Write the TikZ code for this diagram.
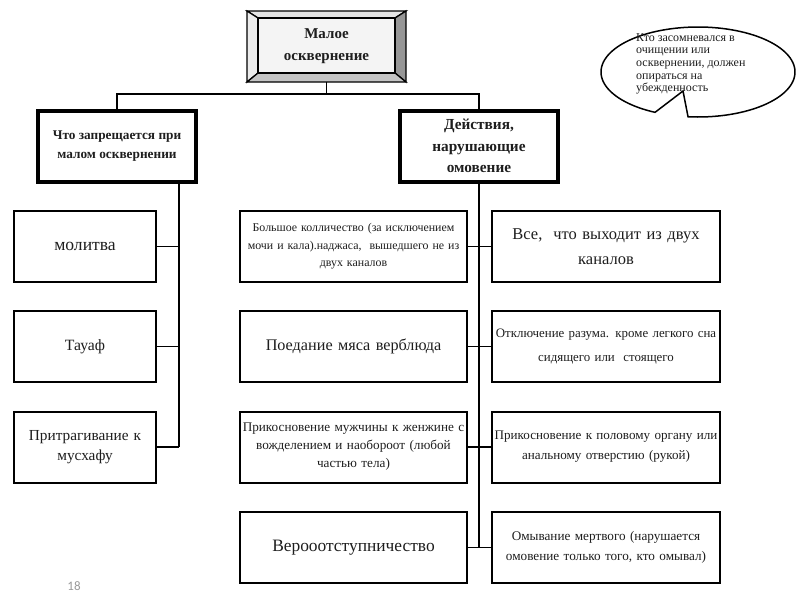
\documentclass[tikz,border=0pt]{standalone}
\usepackage{fontspec}
\setmainfont{Liberation Serif}
\newfontfamily\pnfont{Carlito}
\usetikzlibrary{calc}
\definecolor{txt}{HTML}{1E1E1E}
\definecolor{pngray}{HTML}{9A9A9A}
\definecolor{bvin}{HTML}{F4F4F4}
\definecolor{bvtop}{HTML}{E4E4E4}
\definecolor{bvleft}{HTML}{ECECEC}
\definecolor{bvright}{HTML}{969696}
\definecolor{bvbot}{HTML}{C4C4C4}
\tikzset{
  fs/.style n args={2}{font={\fontsize{#1}{#2}\selectfont}},
  plainbox/.style={draw=black, line width=2pt, inner sep=0pt, align=center, text=txt},
  headbox/.style={draw=black, line width=4pt, inner sep=0pt, align=center, text=txt,
     minimum width=158pt, minimum height=71pt},
  lbox/.style={plainbox, minimum width=142pt, minimum height=71pt, text width=140pt},
  mbox/.style={plainbox, minimum width=223pt, minimum height=71pt, text width=227pt},
  rbox/.style={plainbox, minimum width=224pt, minimum height=71pt, text width=228pt},
  conn/.style={draw=black, line width=1.8pt},
}
\begin{document}
\begin{tikzpicture}[x=1pt,y=-1pt]
\useasboundingbox (0,0) rectangle (800,600);
\fill[white] (0,0) rectangle (800,600);

% ---- bevelled top box ----
\fill[bvin] (258,18) rectangle (395,73);
\begin{scope}[line width=1.3pt, draw=black, line join=miter]
\filldraw[fill=bvtop] (247,11) -- (406,11) -- (395,18) -- (258,18) -- cycle;
\filldraw[fill=bvleft] (247,11) -- (258,18) -- (258,73) -- (247,82) -- cycle;
\filldraw[fill=bvright] (406,11) -- (406,82) -- (395,73) -- (395,18) -- cycle;
\filldraw[fill=bvbot] (247,82) -- (406,82) -- (395,73) -- (258,73) -- cycle;
\draw (258,18) rectangle (395,73);
\end{scope}
\node[inner sep=0pt, minimum width=159pt, minimum height=71pt, align=center, text=txt,
      fs={15}{22}] (top) at (326.5,46.5) {\bfseries Малое\\\bfseries осквернение};

% ---- header boxes ----
\node[headbox, fs={13.3}{19}] (forb) at (117,146) {\bfseries Что запрещается при\\\bfseries малом осквернении};
\node[headbox, fs={15.3}{21.5}] (act) at (479,146) {\bfseries Действия,\\\bfseries нарушающие\\\bfseries омовение};

% ---- left column ----
\node[lbox, fs={17.6}{20}] (l1) at (85,246.5) {молитва};
\node[lbox, fs={15.7}{20}] (l2) at (85,346.5) {Тауаф};
\node[lbox, fs={15.3}{20}] (l3) at (85,447) {Притрагивание к\\мусхафу};

% ---- middle column ----
\node[mbox, fs={11.9}{17.5}] (m1) at (353.5,246.5) {Большое колличество (за исключением\\мочи и кала).наджаса, \ вышедшего не из\\двух каналов};
\node[mbox, fs={16.2}{20}] (m2) at (353.5,346.5) {Поедание мяса верблюда};
\node[mbox, fs={13.2}{18}] (m3) at (353.5,447) {Прикосновение мужчины к женжине с\\вожделением и наобороот (любой\\частью тела)};
\node[mbox, fs={17.4}{20}] (m4) at (353.5,547.5) {Верооотступничество};

% ---- right column ----
\node[rbox, fs={16.5}{25}] (r1) at (606,246.5) {Все, \ что выходит из двух\\каналов};
\node[rbox, fs={12.9}{24}] (r2) at (606,346.5) {Отключение разума. кроме легкого сна\\сидящего или \ стоящего};
\node[rbox, fs={13.1}{20}] (r3) at (606,447) {Прикосновение к половому органу или\\анальному отверстию (рукой)};
\node[rbox, fs={13.2}{20}] (r4) at (606,547.5) {Омывание мертвого (нарушается\\омовение только того, кто омывал)};

% ---- connectors ----
\coordinate (hub) at (326.5,94);
\coordinate (lt) at (179,182);
\draw[conn] (top.south) -- (hub);
\draw[conn] (forb.north) |- (hub) -| (act.north);
\draw[conn] (lt) -- (lt |- l3.east);
\draw[conn] (l1.east) -- (l1.east -| lt);
\draw[conn] (l2.east) -- (l2.east -| lt);
\draw[conn] (l3.east) -- (l3.east -| lt);
\draw[conn] (act.south) -- (act.south |- m4.east);
\draw[conn] (m1.east) -- (r1.west);
\draw[conn] (m2.east) -- (r2.west);
\draw[conn] (m3.east) -- (r3.west);
\draw[conn] (m4.east) -- (r4.west);

% ---- callout ----
\draw[line width=1.5pt, line join=miter, fill=white]
  plot[domain=116.3:455.9, samples=120] ({698+97*cos(\x)},{72+45*sin(\x)})
  -- (683,91) -- cycle;
\node[anchor=north west, inner sep=0pt, align=left, text=txt, fs={12}{12.7}] (note) at (636,33)
  {Кто засомневался в\\очищении или\\осквернении, должен\\опираться на\\убежденность};

% ---- page number ----
\node[text=pngray, font={\pnfont\fontsize{13}{15}\selectfont}] (pn) at (74,586) {18};
\end{tikzpicture}
\end{document}
